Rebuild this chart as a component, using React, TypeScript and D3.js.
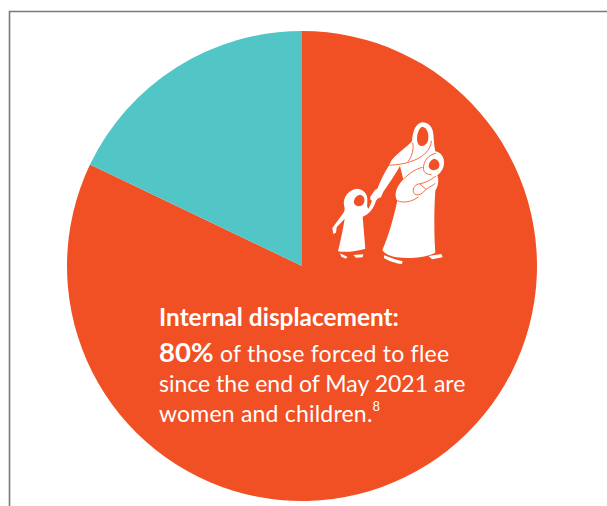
import React from 'react';
import * as d3 from 'd3';

const categories = ['Women and children', 'Others'];
const shares = [82.1, 17.9];
const colors = ['#F05024', '#52C5C6'];

const width = 607;
const height = 506;
const center = { x: 302, y: 266 };
const radius = 235;

const FONT = 'Lato, sans-serif';

// silhouette of the woman and children, drawn in a 3x box from (320,110)
function FamilyIcon() {
  const orange = colors[0];
  return (
    <g transform="translate(320,110) scale(0.3333)">
      {/* woman */}
      <path
        fill="#fff"
        d="M306 37 C325 37 338 50 340 72 C342 92 342 108 346 124 C362 126 373 142 372 158 C372 176 362 188 352 196 C358 212 354 228 346 242 C342 300 342 370 346 428 C320 442 270 448 230 442 C210 438 194 432 187 420 C205 380 222 320 232 272 C222 258 226 234 250 208 L240 168 C226 192 208 220 190 245 L183 262 L156 272 L150 262 L165 240 L172 236 C182 212 192 190 206 168 L215 150 C232 130 262 110 276 94 C278 62 288 40 306 37 Z"
      />
      <path fill="#fff" d="M192 436 C208 442 228 450 248 454 L246 462 C226 460 204 452 192 444 Z" />
      <path fill="#fff" d="M326 438 L364 432 L368 442 L336 448 Z" />
      {/* hood and face */}
      <path fill={orange} d="M306 50 C322 52 328 72 324 92 C318 108 304 112 296 104 C286 90 292 58 306 50 Z" />
      <path fill="none" stroke={orange} strokeWidth={2.5} d="M278 98 C282 118 276 140 264 154" />
      <path fill="none" stroke={orange} strokeWidth={2.5} d="M334 92 C334 118 310 144 268 156 C252 162 232 164 206 166" />
      {/* baby */}
      <path fill={orange} d="M342 146 C356 148 362 162 356 174 C346 184 330 182 326 170 C326 158 332 150 342 146 Z" />
      <path fill="none" stroke={orange} strokeWidth={2.5} d="M348 130 C326 134 310 152 310 178 C312 188 322 194 334 194" />
      <path fill="none" stroke={orange} strokeWidth={2.5} d="M250 208 C268 190 288 176 308 172" />
      <path fill="none" stroke={orange} strokeWidth={2.5} d="M348 198 C330 212 312 220 296 222 C282 226 276 238 282 250 C288 258 304 256 316 240 C328 230 340 226 346 220" />
      <path fill="none" stroke={orange} strokeWidth={2.5} d="M232 272 C250 280 276 276 296 260" />
      <path fill="none" stroke={orange} strokeWidth={2.5} d="M300 222 L318 238" />
      {/* child */}
      <path
        fill="#fff"
        d="M112 236 C130 238 144 252 142 272 C142 284 140 292 146 296 L156 272 L150 268 L166 250 L180 256 L168 272 C162 292 150 312 128 320 L136 416 C110 424 78 428 54 424 C62 390 70 352 74 326 L50 352 L48 368 L40 372 L37 354 L68 312 C74 304 76 298 72 286 C68 260 88 238 112 236 Z"
      />
      <path fill="#fff" d="M60 430 L82 440 L78 446 L64 440 Z" />
      <path fill="#fff" d="M100 435 L130 433 L128 442 L108 443 Z" />
      <path fill={orange} d="M120 254 C132 256 136 268 132 278 C126 292 108 292 102 280 C100 268 108 256 120 254 Z" />
    </g>
  );
}

export default function App() {
  const pie = d3.pie<number>().sort(null).value((d) => d);
  const arc = d3.arc<d3.PieArcDatum<number>>().innerRadius(0).outerRadius(radius);
  const arcs = pie(shares);

  return (
    <svg
      width={width}
      height={height}
      viewBox={`0 0 ${width} ${height}`}
      style={{ position: 'absolute', left: 0, top: 0, display: 'block', background: '#fff' }}
    >
      {/* frame of the page */}
      <path d={`M9.5 ${height} V11.5 H${width}`} fill="none" stroke="#7a7a7a" strokeWidth={1.6} />

      <g transform={`translate(${center.x},${center.y})`}>
        {arcs.map((d, i) => (
          <path key={categories[i]} d={arc(d) as string} fill={colors[i]} />
        ))}
      </g>

      <FamilyIcon />

      <g fill="#fff" fontFamily={FONT}>
        <text x={159} y={326} fontSize={24.4} fontWeight={700}>Internal displacement:</text>
        <text x={159} y={362} fontSize={23}>
          <tspan fontWeight={700} fontSize={27.5}>80%</tspan>
          <tspan x={220} letterSpacing={0.25}>of those forced to flee</tspan>
        </text>
        <text x={159} y={392} fontSize={23}>since the end of May 2021 are</text>
        <text x={159} y={422} fontSize={23} letterSpacing={0.2}>
          women and children.<tspan fontSize={13} dy={-11}>8</tspan>
        </text>
      </g>
    </svg>
  );
}
